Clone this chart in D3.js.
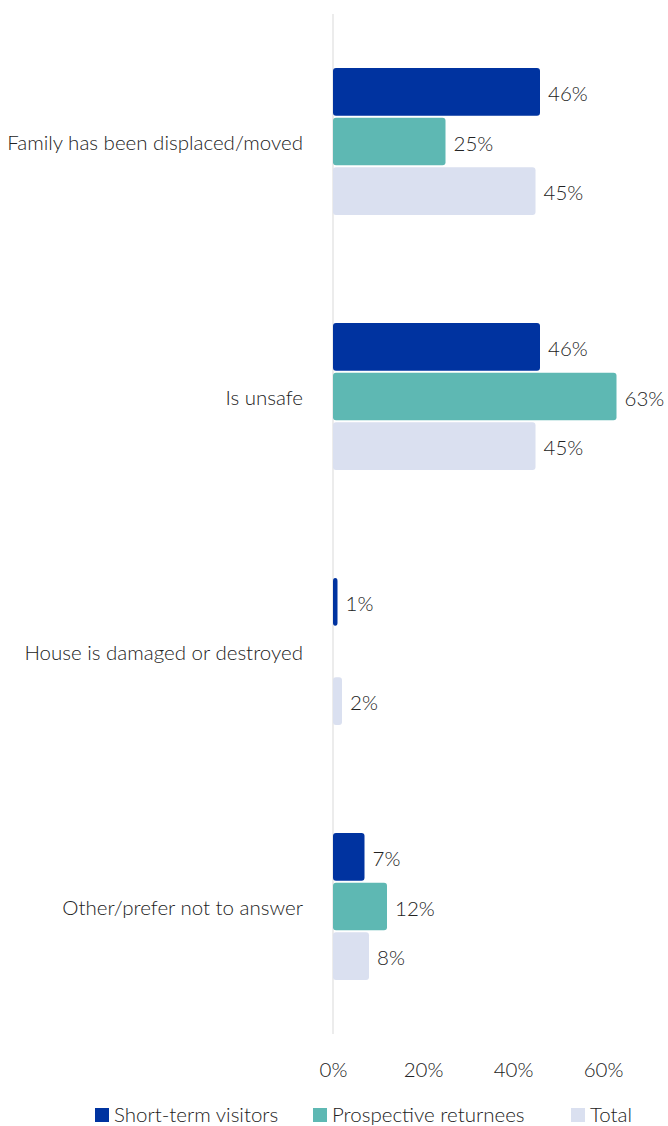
<!DOCTYPE html>
<html>
<head>
<meta charset="utf-8">
<script src="https://cdn.jsdelivr.net/npm/d3@7"></script>
<style>
  body { margin: 0; background: #fff; }
  text { font-family: Lato, "Open Sans", sans-serif; font-weight: 300; fill: #222; }
</style>
</head>
<body>
<svg id="chart"></svg>
<script>
/* DATA */
const categories = ["Family has been displaced/moved", "Is unsafe", "House is damaged or destroyed", "Other/prefer not to answer"];
const seriesNames = ["Short-term visitors", "Prospective returnees", "Total"];
const shortTerm = [46, 46, 1, 7];
const prospective = [25, 63, null, 12];
const total = [45, 45, 2, 8];
const ticks = [0, 20, 40, 60];
const colors = ["#0033a0", "#5eb8b3", "#dae0f0"];

const width = 668, height = 1126;
const fontSize = "20.5px";
const seriesValues = [shortTerm, prospective, total];

const svg = d3.select("#chart").attr("width", width).attr("height", height);

// scales
const x = d3.scaleLinear().domain([0, 60]).range([333, 603]);
const y0 = d3.scaleBand().domain(categories).range([14, 1034]);
const y1 = d3.scaleBand().domain(seriesNames).range([54, 201]).paddingInner(0.04);
const color = d3.scaleOrdinal().domain(seriesNames).range(colors);

// zero line
svg.append("line")
  .attr("x1", x(0)).attr("x2", x(0))
  .attr("y1", 14).attr("y2", 1034)
  .attr("stroke", "#d9d9d9").attr("stroke-width", 1);

// bars
const groups = svg.selectAll("g.cat")
  .data(categories)
  .join("g")
  .attr("class", "cat")
  .attr("transform", d => `translate(0,${y0(d)})`);

const rows = (c, i) => seriesNames.map((s, j) => ({ s, v: seriesValues[j][i] })).filter(d => d.v != null);

groups.selectAll("rect")
  .data(rows)
  .join("rect")
  .attr("x", x(0))
  .attr("y", d => y1(d.s))
  .attr("width", d => x(d.v) - x(0))
  .attr("height", y1.bandwidth())
  .attr("rx", 3)
  .attr("fill", d => color(d.s));

groups.selectAll("text.val")
  .data(rows)
  .join("text")
  .attr("class", "val")
  .attr("x", d => x(d.v) + 8)
  .attr("y", d => y1(d.s) + y1.bandwidth() / 2 + 2)
  .attr("dy", "0.35em")
  .style("font-size", fontSize)
  .text(d => d.v + "%");

// category labels
svg.selectAll("text.cat")
  .data(categories)
  .join("text")
  .attr("class", "cat")
  .attr("x", 303)
  .attr("y", d => y0(d) + y0.bandwidth() / 2 + 1)
  .attr("dy", "0.35em")
  .attr("text-anchor", "end")
  .style("font-size", fontSize)
  .text(d => d);

// x axis
const xAxis = svg.append("g")
  .attr("transform", "translate(0,1070)")
  .call(d3.axisBottom(x).tickValues(ticks).tickFormat(d => d + "%").tickSize(0).tickPadding(0));
xAxis.select(".domain").remove();
xAxis.selectAll("text")
  .attr("dy", "0.35em")
  .style("font-size", fontSize)
  .style("font-family", "Lato, 'Open Sans', sans-serif")
  .style("font-weight", 300)
  .attr("fill", "#222");

// legend
const legendX = [95, 313, 571];
const legend = svg.selectAll("g.legend")
  .data(seriesNames)
  .join("g")
  .attr("class", "legend")
  .attr("transform", (d, i) => `translate(${legendX[i]},1115)`);
legend.append("rect")
  .attr("x", 0).attr("y", -7)
  .attr("width", 14).attr("height", 14)
  .attr("fill", d => color(d));
legend.append("text")
  .attr("x", 19)
  .attr("dy", "0.35em")
  .style("font-size", fontSize)
  .text(d => d);
</script>
</body>
</html>
